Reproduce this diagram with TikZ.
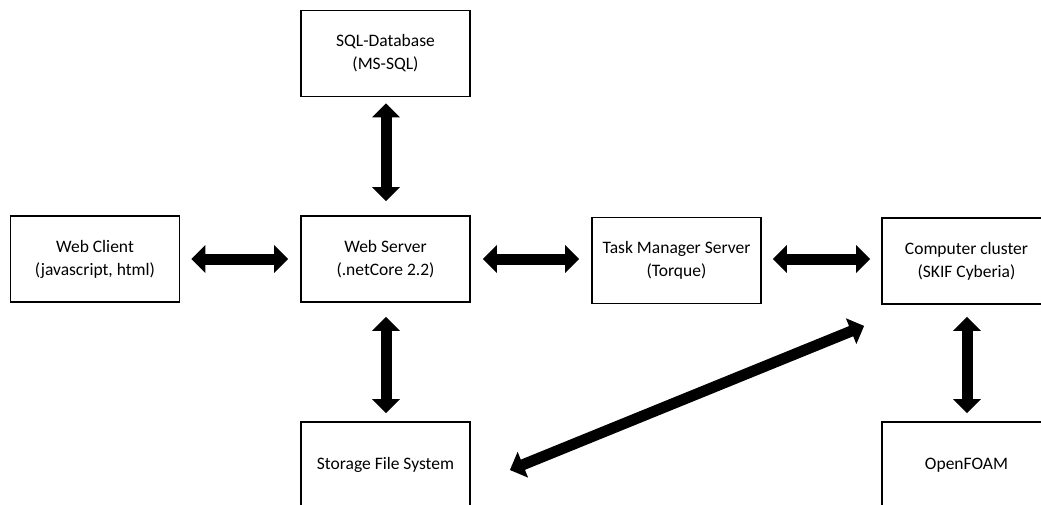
\documentclass[tikz,border=0pt]{standalone}
\usepackage{fontspec}
\setmainfont{Carlito}
\usetikzlibrary{arrows.meta,calc}
\begin{document}
\begin{tikzpicture}[x=1pt,y=-1pt,
  box/.style={draw, line width=1.8pt, minimum width=169pt, minimum height=86pt,
    align=center, inner sep=0pt, font=\fontsize{17.5}{23}\selectfont},
  link/.style={line width=11pt,
    {Triangle[width=27pt,length=14pt]}-{Triangle[width=27pt,length=14pt]}}]
\useasboundingbox (0,0) rectangle (1041,504);
\clip (0,0) rectangle (1041,504);
\node[box] (sql) at (385.5,53.5) {SQL-Database\\(MS-SQL)};
\node[box] (client) at (95,259) {Web Client\\(javascript, html)};
\node[box] (server) at (385.5,259) {Web Server\\(.netCore 2.2)};
\node[box] (task) at (676.5,260.5) {Task Manager Server\\(Torque)};
\node[box] (cluster) at (966.5,261) {Computer cluster\\(SKIF Cyberia)};
\node[box] (storage) at (385.5,465) {Storage File System};
\node[box] (openfoam) at (966.5,465) {OpenFOAM};
\draw[link] ($(sql.south)+(0.5,6)$) -- ($(server.north)+(0.5,-14)$);
\draw[link] ($(client.east)+(11,0)$) -- ($(server.west)+(-12,0)$);
\draw[link] ($(server.east)+(12,0)$) -- ($(task.west)+(-12,-1.5)$);
\draw[link] ($(task.east)+(11,-1.5)$) -- ($(cluster.west)+(-11,-2)$);
\draw[link] ($(server.south)+(0.5,14)$) -- ($(storage.north)+(0.5,-8)$);
\draw[link] ($(cluster.south)+(0.5,12)$) -- ($(openfoam.north)+(0.5,-8)$);
\draw[link] ($(storage.east)+(39,5)$) -- ($(cluster.south west)+(-17,21)$);
\end{tikzpicture}
\end{document}
